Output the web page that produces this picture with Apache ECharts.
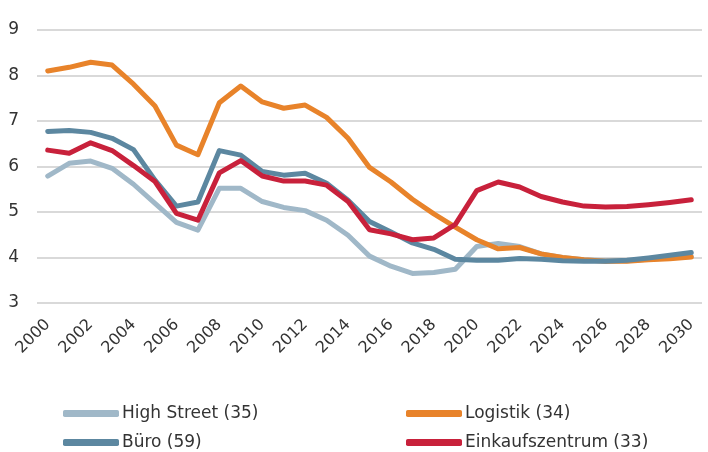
<!DOCTYPE html>
<html>
<head>
<meta charset="utf-8">
<script src="https://cdn.jsdelivr.net/npm/echarts@6/dist/echarts.min.js"></script>
<style>
  html, body { margin: 0; padding: 0; background: #fff; }
  #chart { width: 708px; height: 452px; }
</style>
</head>
<body>
<div id="chart"></div>
<script>
var years = []
for (var y = 2000; y <= 2030; y++) years.push(String(y))

var highStreet = [5.79, 6.07, 6.12, 5.96, 5.61, 5.19, 4.77, 4.60, 5.52, 5.52, 5.23, 5.10, 5.03, 4.82, 4.49,
  4.03, 3.81, 3.65, 3.67, 3.74, 4.24, 4.31, 4.24, 4.08, 4.00, 3.95, 3.93, 3.93, 3.96, 3.99, 4.02]
var logistik = [8.10, 8.18, 8.29, 8.23, 7.81, 7.33, 6.47, 6.26, 7.40, 7.77, 7.42, 7.28, 7.35, 7.08, 6.62,
  5.98, 5.66, 5.28, 4.96, 4.67, 4.39, 4.19, 4.22, 4.08, 4.00, 3.95, 3.92, 3.92, 3.95, 3.97, 4.01]
var buero = [6.77, 6.79, 6.75, 6.62, 6.37, 5.70, 5.13, 5.22, 6.35, 6.25, 5.89, 5.81, 5.85, 5.63, 5.26,
  4.79, 4.56, 4.32, 4.18, 3.96, 3.94, 3.94, 3.98, 3.96, 3.93, 3.92, 3.92, 3.94, 3.99, 4.05, 4.11]
var einkauf = [6.36, 6.29, 6.52, 6.35, 6.02, 5.67, 4.97, 4.82, 5.86, 6.13, 5.79, 5.68, 5.68, 5.59, 5.23,
  4.61, 4.52, 4.39, 4.43, 4.73, 5.47, 5.66, 5.55, 5.34, 5.22, 5.13, 5.11, 5.12, 5.16, 5.21, 5.27]

var names = ['High Street (35)', 'Logistik (34)', 'Büro (59)', 'Einkaufszentrum (33)']
var colors = ['#a0b8c8', '#e8832a', '#5c87a0', '#c8213b']
var values = [highStreet, logistik, buero, einkauf]

var font = 'DejaVu Sans'
var chart = echarts.init(document.getElementById('chart'))

var series = names.map(function (n, i) {
  return {
    name: n,
    type: 'line',
    data: values[i],
    symbol: 'none',
    lineStyle: { width: 5, color: colors[i], join: 'round', cap: 'round' },
    itemStyle: { color: colors[i] }
  }
})

var legendBase = {
  orient: 'vertical',
  top: 400,
  height: 60,
  icon: 'roundRect',
  itemWidth: 56,
  itemHeight: 7,
  itemGap: 12,
  textStyle: { fontFamily: font, fontSize: 17, color: '#333', padding: [0, 0, 0, -2] }
}

chart.setOption({
  animation: false,
  color: colors,
  grid: { left: 37, right: 6, top: 30, bottom: 149 },
  legend: [
    Object.assign({}, legendBase, { left: 58, data: [names[0], names[2]] }),
    Object.assign({}, legendBase, { left: 401, data: [names[1], names[3]] })
  ],
  xAxis: {
    type: 'category',
    data: years,
    boundaryGap: true,
    axisLine: { show: false },
    axisTick: { show: false },
    axisLabel: {
      interval: 1,
      rotate: 45,
      margin: 19,
      fontFamily: font,
      fontSize: 16,
      color: '#333'
    }
  },
  yAxis: {
    type: 'value',
    min: 3,
    max: 9,
    interval: 1,
    axisLine: { show: false },
    axisTick: { show: false },
    axisLabel: { margin: 18, fontFamily: font, fontSize: 17, color: '#333' },
    splitLine: { lineStyle: { color: '#d9d9d9', width: 2 } }
  },
  series: series
})
</script>
</body>
</html>
